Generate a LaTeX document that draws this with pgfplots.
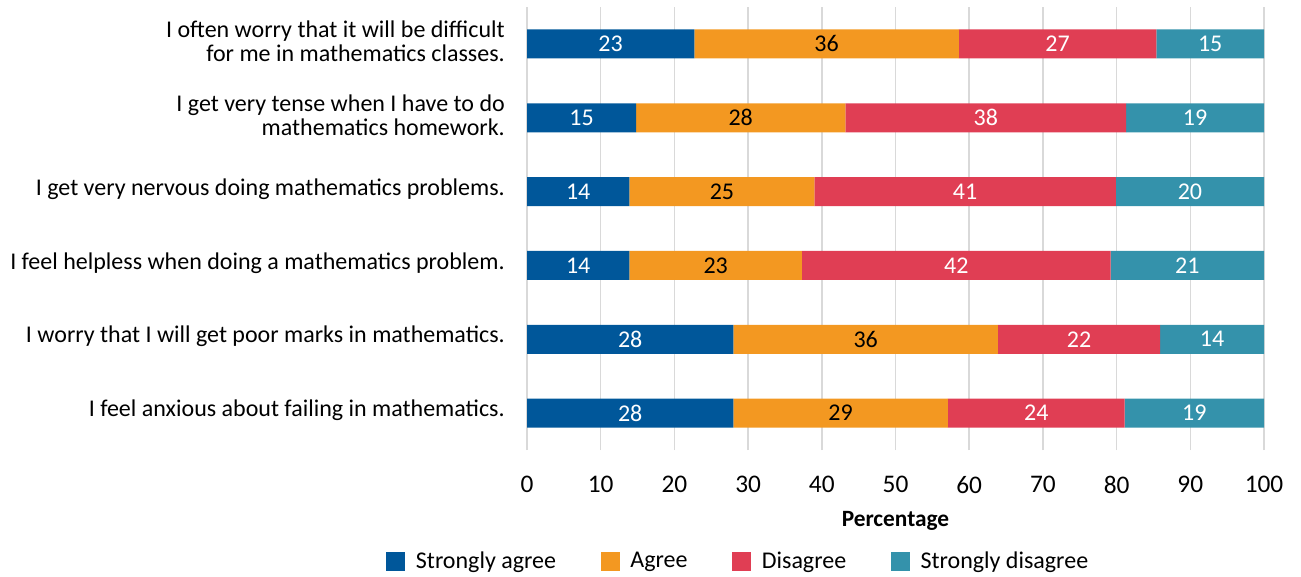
\documentclass[border=0pt]{standalone}
\usepackage{pgfplots}
\usepackage{pgfplotstable}
\pgfplotsset{compat=1.18}
\usepackage{fontspec}
\setmainfont{Carlito}
\definecolor{cSA}{RGB}{0,87,154}
\definecolor{cA}{RGB}{243,152,33}
\definecolor{cD}{RGB}{224,62,84}
\definecolor{cSD}{RGB}{52,146,171}
\definecolor{gridgray}{RGB}{217,217,217}
\pgfplotstableread{
y sa a d sd
0 28.0 29.1 24.0 18.9
1 28.0 35.9 22.0 14.1
2 13.9 23.4 41.9 20.8
3 13.9 25.1 40.9 20.1
4 14.8 28.4 38.1 18.7
5 22.7 35.9 26.8 14.6
}\datatable
\pgfplotsset{
  common/.style={
    at={(395.25pt,-337.5pt)}, anchor=south west,
    scale only axis, width=552.75pt, height=332.25pt,
    xmin=0, xmax=100, ymin=-0.5, ymax=5.5,
  },
}
\begin{document}
\begin{tikzpicture}
\path[use as bounding box] (0,0) rectangle (975.75pt,-432.75pt);
\begin{axis}[
  common,
  xbar stacked, bar width=21.75pt,
  xtick={0,10,...,100},
  ytick={0,1,2,3,4,5},
  yticklabels={
    I feel anxious about failing in mathematics.,
    I worry that I will get poor marks in mathematics.,
    I feel helpless when doing a mathematics problem.,
    I get very nervous doing mathematics problems.,
    {I get very tense when I have to do\\mathematics homework.},
    {I often worry that it will be difficult\\for me in mathematics classes.}
  },
  xmajorgrids, grid style={draw=gridgray, line width=1.1pt},
  axis line style={draw=none}, major tick length=0pt,
  /pgf/number format/assume math mode=true,
  yticklabel style={align=right, inner sep=0pt, xshift=-16.5pt, yshift=2pt,
    font=\fontsize{18}{18}\selectfont},
  xticklabel style={inner sep=0pt, yshift=-19.5pt, font=\fontsize{19}{22}\selectfont},
  xlabel={Percentage},
  xlabel style={at={(axis description cs:0.5,-0.161)}, anchor=center,
    font=\bfseries\fontsize{17.5}{20}\selectfont},
  legend style={
    at={(axis description cs:-0.1913,-0.2506)}, anchor=west,
    legend columns=4, draw=none, fill=none, inner sep=0pt,
    font=\fontsize{18}{21}\selectfont,
    /tikz/every odd column/.append style={column sep=6pt},
    /tikz/every even column/.append style={column sep=31.5pt},
  },
  legend cell align=left,
  legend image code/.code={\fill[#1] (0pt,-7.125pt) rectangle (14.25pt,7.125pt);},
]
\addplot[fill=cSA, draw=none] table[x=sa, y=y] {\datatable};
\addplot[fill=cA, draw=none] table[x=a, y=y] {\datatable};
\addplot[fill=cD, draw=none] table[x=d, y=y] {\datatable};
\addplot[fill=cSD, draw=none] table[x=sd, y=y] {\datatable};
\legend{Strongly agree, Agree, Disagree, Strongly disagree}
\end{axis}
\begin{axis}[
  common, hide axis,
  /pgf/number format/assume math mode=true,
  nodes near coords={\pgfmathprintnumber[fixed,precision=0,assume math mode=true]{\pgfplotspointmeta}},
  every node near coord/.style={anchor=center, font=\fontsize{18}{21}\selectfont},
  point meta=explicit,
]
\addplot[draw=none, mark=none, every node near coord/.append style={text=white}]
  table[x expr=\thisrow{sa}/2, y=y, meta=sa] {\datatable};
\addplot[draw=none, mark=none, every node near coord/.append style={text=black}]
  table[x expr=\thisrow{sa}+\thisrow{a}/2, y=y, meta=a] {\datatable};
\addplot[draw=none, mark=none, every node near coord/.append style={text=white}]
  table[x expr=\thisrow{sa}+\thisrow{a}+\thisrow{d}/2, y=y, meta=d] {\datatable};
\addplot[draw=none, mark=none, every node near coord/.append style={text=white}]
  table[x expr=\thisrow{sa}+\thisrow{a}+\thisrow{d}+\thisrow{sd}/2, y=y, meta=sd] {\datatable};
\end{axis}
\end{tikzpicture}
\end{document}
